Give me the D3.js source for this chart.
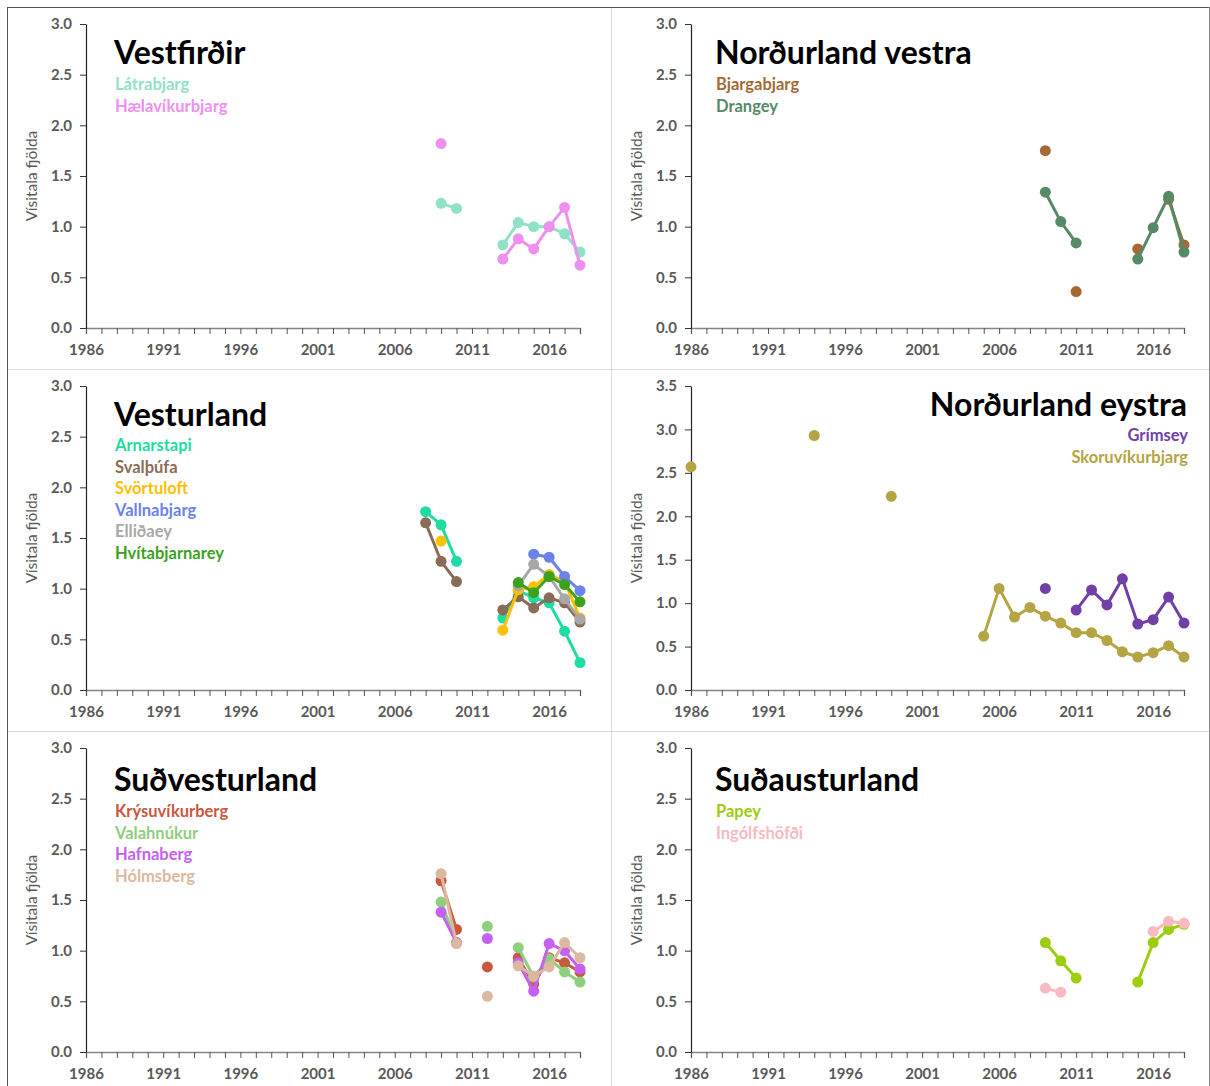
<!DOCTYPE html>
<html><head><meta charset="utf-8">
<script src="https://cdn.jsdelivr.net/npm/d3@7"></script>
<style>
body{margin:0;background:#fff;}
svg{display:block;}
text{font-family:Lato,"Open Sans",sans-serif;}
</style></head>
<body>
<script>
// ---- data ----
const xTickYears = [1986, 1991, 1996, 2001, 2006, 2011, 2016];
const xFirst = 1986, xLast = 2018;
const yTicks3 = [0, 0.5, 1.0, 1.5, 2.0, 2.5, 3.0];
const yTicks35 = [0, 0.5, 1.0, 1.5, 2.0, 2.5, 3.0, 3.5];
const yTitle = "Vísitala fjölda";

// Vestfirðir
const latrabjarg = [[2009,1.23],[2010,1.18],[2013,0.82],[2014,1.04],[2015,1.00],[2016,1.00],[2017,0.93],[2018,0.75]];
const haelavikurbjarg = [[2009,1.82],[2013,0.68],[2014,0.88],[2015,0.78],[2016,1.00],[2017,1.19],[2018,0.62]];
// Norðurland vestra
const bjargabjarg = [[2009,1.75],[2011,0.36],[2015,0.78],[2017,1.27],[2018,0.82]];
const drangey = [[2009,1.34],[2010,1.05],[2011,0.84],[2015,0.68],[2016,0.99],[2017,1.30],[2018,0.75]];
// Vesturland
const arnarstapi = [[2008,1.76],[2009,1.63],[2010,1.27],[2013,0.71],[2014,0.98],[2015,0.91],[2016,0.86],[2017,0.58],[2018,0.27]];
const svalthufa = [[2008,1.65],[2009,1.27],[2010,1.07],[2013,0.79],[2014,0.92],[2015,0.81],[2016,0.91],[2017,0.86],[2018,0.67]];
const svortuloft = [[2009,1.47],[2013,0.59],[2014,0.99],[2015,1.02],[2016,1.14],[2017,1.07],[2018,0.71]];
const vallnabjarg = [[2015,1.34],[2016,1.31],[2017,1.12],[2018,0.98]];
const ellidaey = [[2014,1.03],[2015,1.24],[2016,1.12],[2017,0.90],[2018,0.70]];
const hvitabjarnarey = [[2014,1.06],[2015,0.96],[2016,1.12],[2017,1.04],[2018,0.87]];
// Norðurland eystra
const grimsey = [[2009,1.17],[2011,0.92],[2012,1.15],[2013,0.98],[2014,1.28],[2015,0.76],[2016,0.81],[2017,1.07],[2018,0.77]];
const skoruvikurbjarg = [[1986,2.57],[1994,2.93],[1999,2.23],[2005,0.62],[2006,1.17],[2007,0.84],[2008,0.95],[2009,0.85],[2010,0.77],[2011,0.66],[2012,0.66],[2013,0.57],[2014,0.44],[2015,0.38],[2016,0.43],[2017,0.51],[2018,0.38]];
// Suðvesturland
const krysuvikurberg = [[2009,1.69],[2010,1.21],[2012,0.84],[2014,0.93],[2015,0.67],[2016,0.93],[2017,0.88],[2018,0.79]];
const valahnukur = [[2009,1.48],[2010,1.08],[2012,1.24],[2014,1.03],[2015,0.74],[2016,0.92],[2017,0.79],[2018,0.69]];
const hafnaberg = [[2009,1.38],[2010,1.08],[2012,1.12],[2014,0.88],[2015,0.60],[2016,1.07],[2017,1.00],[2018,0.82]];
const holmsberg = [[2009,1.76],[2010,1.07],[2012,0.55],[2014,0.85],[2015,0.75],[2016,0.84],[2017,1.08],[2018,0.93]];
// Suðausturland
const papey = [[2009,1.08],[2010,0.90],[2011,0.73],[2015,0.69],[2016,1.08],[2017,1.21],[2018,1.26]];
const ingolfshofdi = [[2009,0.63],[2010,0.59],[2016,1.19],[2017,1.29],[2018,1.27]];

const panels = [
  {title:"Vestfirðir", ymax:3.0, yticks:yTicks3, col:0, row:0, align:"left",
   series:[{name:"Látrabjarg",color:"#8fe2c6",data:latrabjarg},{name:"Hælavíkurbjarg",color:"#ef8ff0",data:haelavikurbjarg}]},
  {title:"Norðurland vestra", ymax:3.0, yticks:yTicks3, col:1, row:0, align:"left",
   series:[{name:"Bjargabjarg",color:"#a36a35",data:bjargabjarg},{name:"Drangey",color:"#568a66",data:drangey}]},
  {title:"Vesturland", ymax:3.0, yticks:yTicks3, col:0, row:1, align:"left",
   series:[{name:"Arnarstapi",color:"#1edca2",data:arnarstapi},{name:"Svalþúfa",color:"#8a6b58",data:svalthufa},
           {name:"Svörtuloft",color:"#ffc000",data:svortuloft},{name:"Vallnabjarg",color:"#6b82ea",data:vallnabjarg},
           {name:"Elliðaey",color:"#a8a8a8",data:ellidaey},{name:"Hvítabjarnarey",color:"#3ca21e",data:hvitabjarnarey}]},
  {title:"Norðurland eystra", ymax:3.5, yticks:yTicks35, col:1, row:1, align:"right",
   series:[{name:"Grímsey",color:"#7040a8",data:grimsey},{name:"Skoruvíkurbjarg",color:"#b4a444",data:skoruvikurbjarg}]},
  {title:"Suðvesturland", ymax:3.0, yticks:yTicks3, col:0, row:2, align:"left",
   series:[{name:"Krýsuvíkurberg",color:"#c8593e",data:krysuvikurberg},{name:"Valahnúkur",color:"#8dcf7b",data:valahnukur},
           {name:"Hafnaberg",color:"#c460f2",data:hafnaberg},{name:"Hólmsberg",color:"#dcb8a0",data:holmsberg}]},
  {title:"Suðausturland", ymax:3.0, yticks:yTicks3, col:1, row:2, align:"left",
   series:[{name:"Papey",color:"#9ccd0e",data:papey},{name:"Ingólfshöfði",color:"#f8b9c2",data:ingolfshofdi}]}
];

// ---- layout ----
const W = 1210, H = 1086;
const svg = d3.select("body").append("svg").attr("width", W).attr("height", H);

const colX = [{l:86, r:580, titleX:114, legX:115}, {l:691, r:1184, titleX:715, legX:716}];
const rowY = [{t:24, b:328, titleY:64, legY:90}, {t:386, b:690, titleY:426, legY:451}, {t:748, b:1052, titleY:791, legY:817}];

// frame
svg.append("line").attr("x1",7.5).attr("x2",7.5).attr("y1",7).attr("y2",H).attr("stroke","#555");
svg.append("line").attr("x1",7).attr("x2",W).attr("y1",7.5).attr("y2",7.5).attr("stroke","#555");
svg.append("line").attr("x1",W-0.5).attr("x2",W-0.5).attr("y1",7).attr("y2",H).attr("stroke","#888");
svg.append("line").attr("x1",611.5).attr("x2",611.5).attr("y1",8).attr("y2",H).attr("stroke","#d9d9d9");
[369.5, 731.5].forEach(y => svg.append("line").attr("x1",8).attr("x2",W-1).attr("y1",y).attr("y2",y).attr("stroke","#d9d9d9"));

const allYears = d3.range(xFirst, xLast + 1);

panels.forEach(p => {
  const cx = colX[p.col], ry = rowY[p.row];
  const x = d3.scaleLinear().domain([xFirst, xLast]).range([cx.l, cx.r]);
  const y = d3.scaleLinear().domain([0, p.ymax]).range([ry.b, ry.t]);
  const g = svg.append("g");

  // x axis
  const xa = g.append("g").attr("transform", `translate(0,${ry.b})`)
    .call(d3.axisBottom(x).tickValues(allYears).tickSize(6).tickFormat(d => xTickYears.includes(d) ? d : ""));
  xa.select(".domain").attr("stroke","#868686").attr("stroke-width",1.3);
  xa.selectAll(".tick line").attr("stroke","#555");
  xa.selectAll("text").attr("fill","#595959").attr("font-size",15).attr("font-weight","bold").attr("y",13).attr("dy","0.95em");

  // y axis
  const ya = g.append("g").attr("transform", `translate(${cx.l},0)`)
    .call(d3.axisLeft(y).tickValues(p.yticks).tickSize(6).tickSizeOuter(0).tickFormat(d3.format(".1f")));
  ya.select(".domain").attr("stroke","#222").attr("stroke-width",1.2);
  ya.selectAll(".tick line").attr("stroke","#333");
  ya.selectAll("text").attr("fill","#595959").attr("font-size",15).attr("font-weight","bold").attr("x",-14);

  // y title
  g.append("text").attr("transform", `translate(${cx.l-49},${(ry.t+ry.b)/2}) rotate(-90)`)
    .attr("text-anchor","middle").attr("fill","#595959").attr("font-size",15.5).text(yTitle);

  // title + legend
  const right = p.align === "right";
  const tx = right ? 1187 : cx.titleX;
  const ty = right ? 416 : ry.titleY;
  g.append("text").attr("x", tx).attr("y", ty).attr("text-anchor", right ? "end" : "start")
    .attr("font-size",32).attr("font-weight","bold").attr("fill","#000").text(p.title);
  p.series.forEach((s,i) => {
    g.append("text").attr("x", right ? 1188 : cx.legX).attr("y", (right ? 441 : ry.legY) + i*21.6)
      .attr("text-anchor", right ? "end" : "start").attr("font-size",16.5).attr("font-weight","bold")
      .attr("fill", s.color).text(s.name);
  });

  // series
  const line = d3.line().defined(d => d[1] != null).x(d => x(d[0])).y(d => y(d[1]));
  p.series.forEach(s => {
    const lookup = new Map(s.data);
    const full = allYears.map(yr => [yr, lookup.has(yr) ? lookup.get(yr) : null]);
    g.append("path").datum(full).attr("d", line).attr("fill","none")
      .attr("stroke", s.color).attr("stroke-width",3).attr("stroke-linejoin","round");
    g.selectAll(null).data(s.data).enter().append("circle")
      .attr("cx", d => x(d[0])).attr("cy", d => y(d[1])).attr("r",5.5).attr("fill", s.color);
  });
});
</script>
</body></html>
